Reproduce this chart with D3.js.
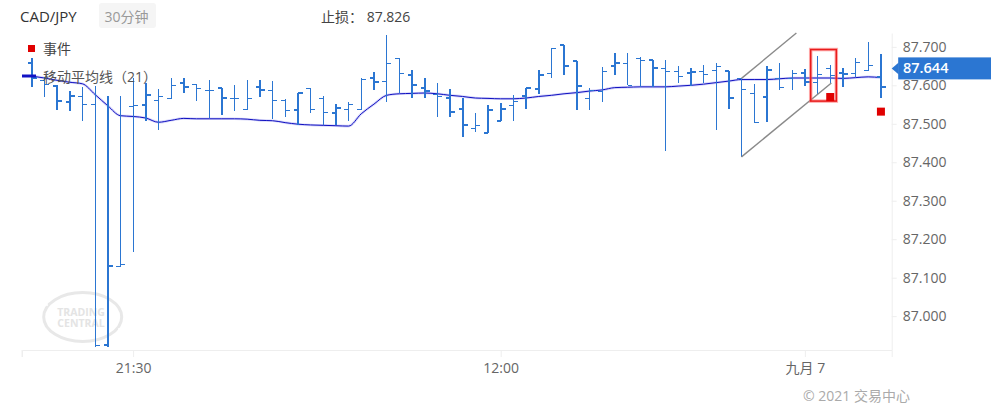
<!DOCTYPE html>
<html><head><meta charset="utf-8">
<script src="https://cdn.jsdelivr.net/npm/d3@7"></script>
<style>body{margin:0;background:#fff;} svg{display:block;font-family:"Open Sans","Noto Sans CJK SC",sans-serif;}</style>
</head><body><svg id="c" width="991" height="412"></svg>
<script>
const symbol = "CAD/JPY", period = "30分钟", stopLabel = "止损：", stopLoss = "87.826", lastPrice = "87.644";
const legendEvent = "事件", legendMA = "移动平均线（21）";
const copyright = "© 2021 交易中心";
const startTime = new Date(2021, 8, 5, 17, 30);
const barMinutes = 30;

const open  = [87.658,87.613,87.598,87.557,87.570,87.551,86.924,87.130,87.546,87.548,87.561,87.567,87.605,87.602,87.587,87.593,87.567,87.537,87.595,87.587,87.561,87.537,87.592,87.566,87.528,87.538,87.538,87.620,87.609,87.671,87.626,87.592,87.577,87.567,87.538,87.488,87.475,87.507,87.547,87.573,87.590,87.632,87.704,87.663,87.567,87.585,87.651,87.658,87.670,87.665,87.645,87.635,87.631,87.635,87.639,87.638,87.618,87.580,87.570,87.619,87.618,87.632,87.607,87.645,87.631,87.632,87.638,87.622];
const high  = [87.670,87.621,87.600,87.585,87.596,87.598,87.573,87.572,87.619,87.605,87.591,87.619,87.619,87.602,87.613,87.594,87.600,87.613,87.613,87.612,87.565,87.581,87.592,87.572,87.551,87.557,87.618,87.635,87.730,87.672,87.639,87.618,87.607,87.590,87.567,87.529,87.548,87.555,87.574,87.594,87.639,87.696,87.704,87.663,87.594,87.648,87.683,87.683,87.674,87.667,87.665,87.650,87.644,87.652,87.659,87.638,87.618,87.603,87.650,87.659,87.639,87.642,87.676,87.652,87.646,87.672,87.713,87.681];
const low   = [87.596,87.569,87.537,87.533,87.507,86.920,86.920,87.129,87.167,87.507,87.485,87.566,87.581,87.560,87.516,87.522,87.532,87.535,87.569,87.512,87.517,87.498,87.529,87.496,87.496,87.508,87.535,87.587,87.557,87.579,87.566,87.566,87.518,87.518,87.466,87.479,87.475,87.507,87.508,87.538,87.577,87.618,87.628,87.537,87.537,87.557,87.628,87.600,87.596,87.596,87.430,87.606,87.598,87.605,87.485,87.538,87.414,87.503,87.505,87.589,87.587,87.598,87.577,87.606,87.596,87.622,87.638,87.568];
const close = [87.619,87.602,87.559,87.572,87.551,86.924,87.130,87.135,87.548,87.576,87.570,87.599,87.596,87.592,87.587,87.567,87.567,87.567,87.587,87.561,87.535,87.581,87.537,87.530,87.541,87.550,87.615,87.609,87.657,87.631,87.600,87.586,87.570,87.530,87.498,87.496,87.535,87.538,87.557,87.594,87.628,87.696,87.651,87.599,87.587,87.637,87.657,87.600,87.664,87.645,87.637,87.622,87.635,87.628,87.648,87.568,87.589,87.503,87.639,87.594,87.632,87.608,87.628,87.626,87.629,87.659,87.652,87.596];
const ma21  = [87.624,87.619,87.613,87.608,87.604,87.576,87.547,87.521,87.519,87.515,87.504,87.509,87.514,87.513,87.513,87.513,87.513,87.512,87.509,87.508,87.503,87.499,87.497,87.496,87.495,87.494,87.526,87.551,87.574,87.578,87.579,87.580,87.578,87.574,87.571,87.567,87.566,87.565,87.565,87.567,87.571,87.574,87.578,87.581,87.585,87.588,87.594,87.595,87.596,87.596,87.596,87.598,87.600,87.603,87.607,87.611,87.615,87.615,87.615,87.617,87.619,87.619,87.619,87.619,87.618,87.620,87.622,87.620];

const yTicks = [87.0, 87.1, 87.2, 87.3, 87.4, 87.5, 87.6, 87.7];
const xTickTimes = [new Date(2021, 8, 5, 21, 30), new Date(2021, 8, 6, 12, 0), new Date(2021, 8, 7, 0, 0)];
const xTickLabels = ["21:30", "12:00", "九月 7"];
const eventBars = [63, 67];
// channel drawing anchors: [bar position, price]
const channelUpper = [[56, 87.618], [60.33, 87.736]];
const channelLower = [[56, 87.414], [63.09, 87.606]];
const highlightBox = {from: 61.46, to: 63.48, top: 87.693, bottom: 87.559};

const t = k => new Date(startTime.getTime() + k * barMinutes * 60000);
const times = open.map((d, i) => t(i));

const svg = d3.select("#c");
const L = 22, R = 891.7, T = 33, B = 350;
const x = d3.scaleTime().domain([t(-0.765), t(67.85)]).range([L, R]);
const y = d3.scaleLinear().domain([86.912, 87.736]).range([B, T]);

// header
svg.append("text").attr("x", 20).attr("y", 22).attr("font-size", 15).attr("fill", "#333").text(symbol);
svg.append("rect").attr("x", 99).attr("y", 3).attr("width", 57).attr("height", 25).attr("rx", 3).attr("fill", "#f5f5f5");
svg.append("text").attr("x", 104.5).attr("y", 22).attr("font-size", 14).attr("fill", "#999").text(period);
svg.append("text").attr("x", 321).attr("y", 22).attr("font-size", 14).attr("fill", "#444").text(stopLabel + " " + stopLoss);

// watermark
const wm = svg.append("g");
wm.append("ellipse").attr("cx", 82.7).attr("cy", 317).attr("rx", 39).attr("ry", 24.5)
  .attr("fill", "none").attr("stroke", "#e8e8e8").attr("stroke-width", 3);
[[62, 292.5], [103, 292.5], [47, 305], [119, 329], [62, 341.5]].forEach(p =>
  wm.append("circle").attr("cx", p[0]).attr("cy", p[1]).attr("r", 1).attr("fill", "#fff"));
wm.append("text").attr("x", 81).attr("y", 316).attr("text-anchor", "middle").attr("font-size", 10.5)
  .attr("font-weight", "bold").attr("fill", "#e4e4e4").text("TRADING");
wm.append("text").attr("x", 81).attr("y", 326.5).attr("text-anchor", "middle").attr("font-size", 10.5)
  .attr("font-weight", "bold").attr("fill", "#e4e4e4").text("CENTRAL");

// axes
const xAxis = d3.axisBottom(x).tickValues(xTickTimes).tickFormat((d, i) => xTickLabels[i]).tickSizeOuter(0).tickSize(7).tickPadding(6);
const gx = svg.append("g").attr("transform", `translate(0,${B})`).call(xAxis);
gx.select(".domain").attr("stroke", "#eeeeee");
gx.selectAll(".tick line").attr("stroke", "#eeeeee");
gx.selectAll(".tick text").attr("font-size", 14).attr("fill", "#666").attr("font-family", "Open Sans, Noto Sans CJK SC");
svg.append("line").attr("x1", L).attr("x2", L).attr("y1", B).attr("y2", B + 7).attr("stroke", "#eee");

const yAxis = d3.axisRight(y).tickValues(yTicks).tickFormat(d3.format(".3f")).tickSize(5).tickPadding(6).tickSizeOuter(0);
const gy = svg.append("g").attr("transform", `translate(${R},0)`).call(yAxis);
gy.select(".domain").attr("stroke", "#eeeeee");
gy.selectAll(".tick line").attr("stroke", "#eeeeee");
gy.selectAll(".tick text").attr("font-size", 14).attr("fill", "#666").attr("font-family", "Open Sans, Noto Sans CJK SC");

// MA line
const maLine = d3.line().x((d, i) => x(times[i])).y(d => y(d)).curve(d3.curveMonotoneX);
svg.append("path").datum(ma21).attr("d", maLine).attr("fill", "none").attr("stroke", "#9a9af2").attr("stroke-opacity", 0.4).attr("stroke-width", 2.6);
svg.append("path").datum(ma21).attr("d", maLine).attr("fill", "none").attr("stroke", "#1010c0").attr("stroke-width", 1);

// OHLC bars (1px or 2px depending on how the bar falls on the pixel grid)
const barColor = "#2b76d2";
const bars = svg.append("g").attr("stroke", barColor).attr("shape-rendering", "crispEdges");
times.forEach((tm, i) => {
  const cx = x(tm);
  const fr = cx - Math.floor(cx);
  const thick = fr >= 0.6 || fr < 0.05;
  const px = thick ? Math.round(cx) : Math.floor(cx) + 0.5;
  const w = thick ? 2 : 1;
  const g = bars.append("g").attr("stroke-width", w);
  g.append("line").attr("x1", px).attr("x2", px).attr("y1", y(high[i])).attr("y2", y(low[i]));
  g.append("line").attr("x1", px - 4.5).attr("x2", px).attr("y1", y(open[i])).attr("y2", y(open[i]));
  g.append("line").attr("x1", px).attr("x2", px + 4.5).attr("y1", y(close[i])).attr("y2", y(close[i]));
});

// channel drawing
const pt = p => [x(t(p[0])), y(p[1])];
[channelUpper, channelLower].forEach(seg => {
  const a = pt(seg[0]), b = pt(seg[1]);
  svg.append("line").attr("x1", a[0]).attr("y1", a[1]).attr("x2", b[0]).attr("y2", b[1])
    .attr("stroke", "#8a8a8a").attr("stroke-width", 1.4);
});

// highlight box
const hx0 = x(t(highlightBox.from)), hx1 = x(t(highlightBox.to));
const hy0 = y(highlightBox.top), hy1 = y(highlightBox.bottom);
svg.append("rect").attr("x", hx0).attr("y", hy0).attr("width", hx1 - hx0).attr("height", hy1 - hy0)
  .attr("fill", "none").attr("stroke", "#ff6666").attr("stroke-opacity", 0.55).attr("stroke-width", 3.5);
svg.append("rect").attr("x", hx0).attr("y", hy0).attr("width", hx1 - hx0).attr("height", hy1 - hy0)
  .attr("fill", "none").attr("stroke", "#e81c1c").attr("stroke-width", 1.5);

// events
eventBars.forEach(i => {
  svg.append("rect").attr("x", x(times[i]) - 4).attr("y", y(low[i]) + 10).attr("width", 8).attr("height", 8).attr("fill", "#e00000");
});

// legend
svg.append("rect").attr("x", 28).attr("y", 45).attr("width", 7).attr("height", 7).attr("fill", "#e00000");
svg.append("text").attr("x", 43).attr("y", 54).attr("font-size", 14).attr("fill", "#444").text(legendEvent);
svg.append("line").attr("x1", 22).attr("x2", 36).attr("y1", 76).attr("y2", 76).attr("stroke", "#1212c4").attr("stroke-width", 3);
svg.append("text").attr("x", 43).attr("y", 82).attr("font-size", 14).attr("fill", "#555").text(legendMA);

// last price tag
const lp = y(+lastPrice);
svg.append("path").attr("d", `M${R},${lp} L${R + 7},${lp - 6} L${R + 7},${lp + 6} Z`).attr("fill", barColor);
svg.append("rect").attr("x", R + 6.5).attr("y", lp - 11).attr("width", 991 - R - 6.5).attr("height", 22).attr("fill", barColor);
svg.append("text").attr("x", 903).attr("y", lp + 5).attr("font-size", 14.5).attr("font-weight", 600).attr("fill", "#fff").text(lastPrice);

// copyright
svg.append("text").attr("x", 803).attr("y", 401).attr("font-size", 14).attr("fill", "#aaa").text(copyright);
</script></body></html>
